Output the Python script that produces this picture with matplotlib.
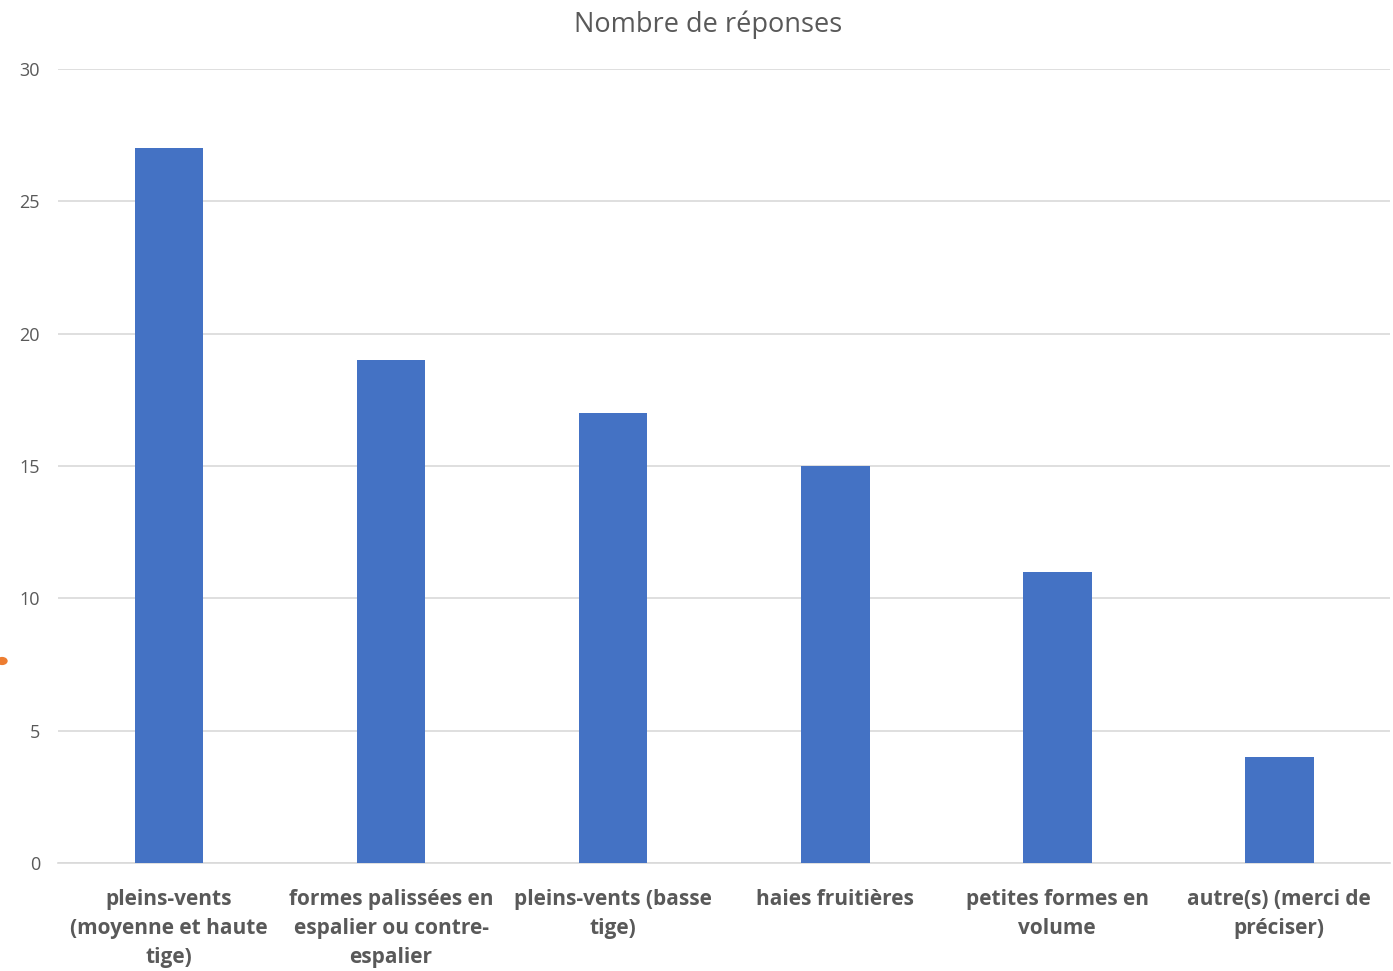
import matplotlib.pyplot as plt
from matplotlib.patches import Circle

# Survey results: number of answers per type of fruit tree form
categories = [
    "pleins-vents\n(moyenne et haute\ntige)",
    "formes palissées en\nespalier ou contre-\nespalier",
    "pleins-vents (basse\ntige)",
    "haies fruitières",
    "petites formes en\nvolume",
    "autre(s) (merci de\npréciser)",
]
responses = [27, 19, 17, 15, 11, 4]
yticks = [0, 5, 10, 15, 20, 25, 30]

plt.rcParams['font.family'] = ['Open Sans', 'DejaVu Sans']

fig = plt.figure(figsize=(13.93, 9.71), dpi=100)
ax = fig.add_axes([0.0416, 0.1112, 0.9564, 0.8177])

x = range(len(categories))
ax.bar(x, responses, width=0.31, color='#4472C4', zorder=3)

ax.set_xlim(-0.5, len(categories) - 0.5)
ax.set_ylim(0, 30)
ax.set_yticks(yticks)
ax.set_yticklabels([str(v) for v in yticks], fontsize=13, color='#595959')
ax.set_xticks(list(x))
ax.set_xticklabels(categories, fontsize=15, fontweight='bold', color='#595959',
                   linespacing=1.5, va='top')
ax.tick_params(axis='y', length=0, pad=13)
ax.tick_params(axis='x', length=0, pad=19)

ax.grid(axis='y', color='#D9D9D9', linewidth=1.2, zorder=0)
for side in ['top', 'right', 'left']:
    ax.spines[side].set_visible(False)
ax.spines['bottom'].set_color('#D9D9D9')
ax.spines['bottom'].set_linewidth(1.2)

fig.text(708 / 1393, 1 - 25 / 971, "Nombre de réponses", fontsize=19.5,
         color='#595959', ha='center', va='center')

# small orange marker at the left edge
fig.patches.append(Circle((0.0015, 1 - 661 / 971), 0.0035, transform=fig.transFigure,
                          color='#ED7D31', zorder=5))

fig.savefig('out.png', dpi=100, facecolor='white')
